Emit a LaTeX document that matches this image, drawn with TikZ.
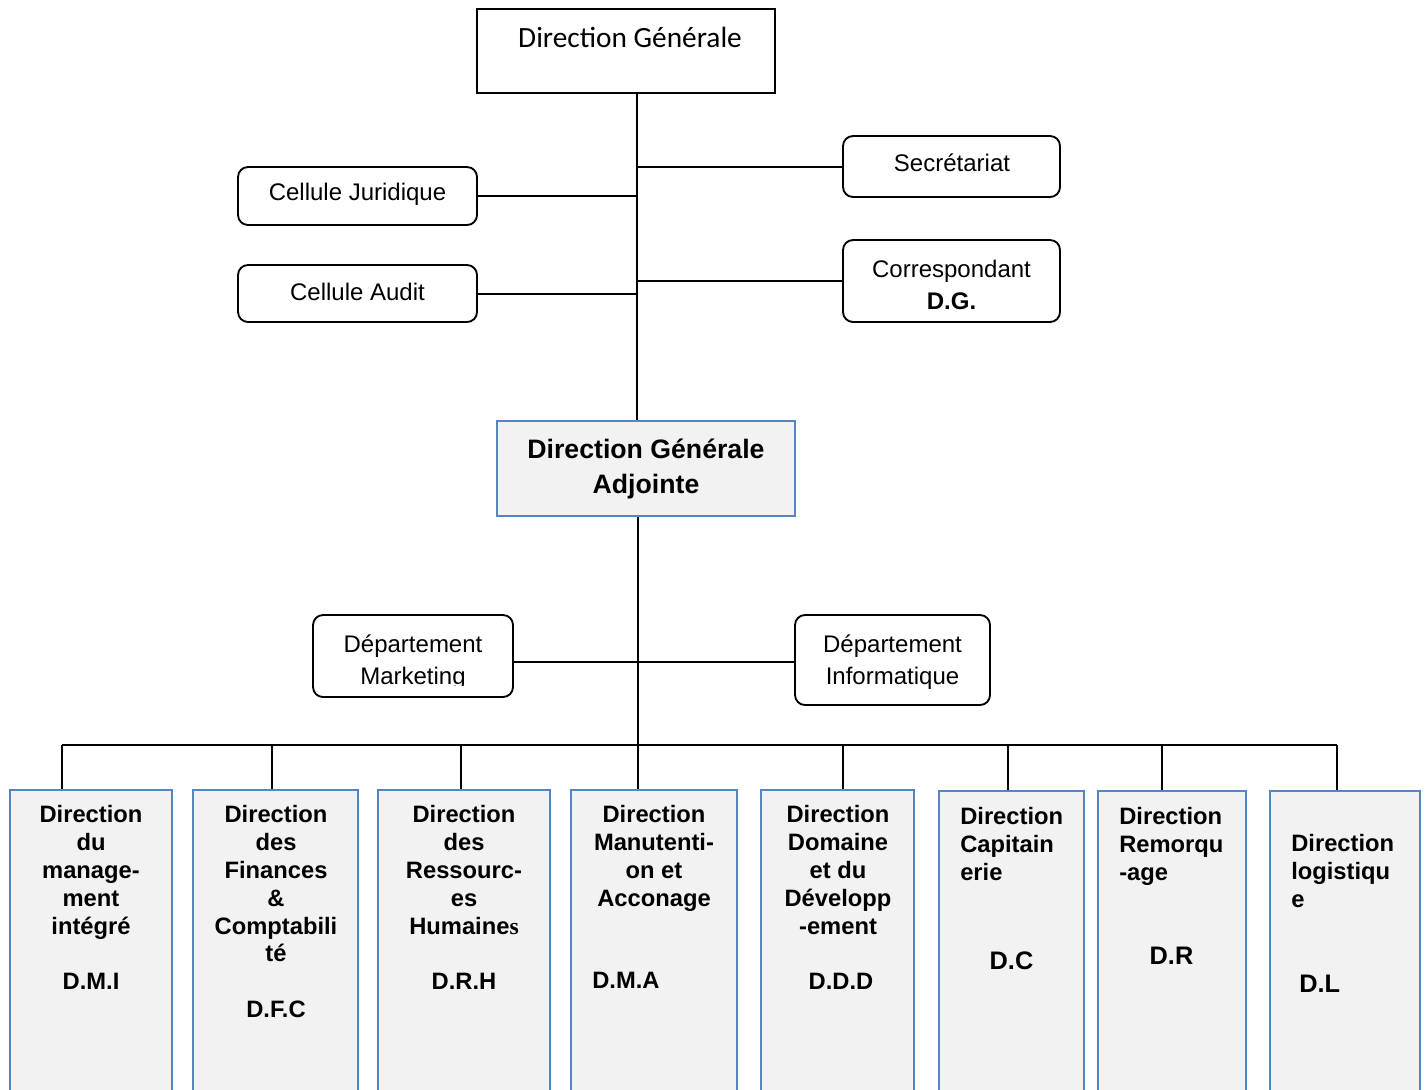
\documentclass[tikz,border=0pt]{standalone}
\usepackage{fontspec}
\setmainfont{Liberation Sans}
\newfontfamily\calibrifont{Carlito}
\newfontfamily\timesfont{Liberation Serif}
\definecolor{blueline}{HTML}{5585C2}
\definecolor{boxgray}{HTML}{F2F2F2}
\begin{document}
\begin{tikzpicture}[x=0.75pt,y=-0.75pt,
  conn/.style={line width=1.5pt},
  sz/.style 2 args={minimum width=#1*0.75pt, minimum height=#2*0.75pt, inner sep=0pt},
  plainbox/.style={draw=black, line width=1.5pt, rectangle},
  roundbox/.style={draw=black, line width=1.4pt, rounded corners=7.5pt, align=center,
    font=\fontsize{18}{23.5}\selectfont},
  boxtext/.style={align=center, inner sep=0pt, font=\fontsize{18}{23.5}\selectfont},
  bluebox/.style={draw=blueline, fill=boxgray, line width=1.5pt, rectangle},
  dirtitle/.style={inner sep=0pt, align=center, anchor=north,
    font=\fontsize{17.8}{20.85}\selectfont\bfseries},
  dirtitleL/.style={dirtitle, align=left, anchor=north west},
  abbr/.style={inner sep=0pt, anchor=base, font=\fontsize{17.8}{20.85}\selectfont\bfseries},
  abbrbig/.style={abbr, font=\fontsize{19}{22}\selectfont\bfseries}
]
\useasboundingbox (0,0) rectangle (1426,1089);
\fill[white] (0,0) rectangle (1426,1089);
\clip (0,0) rectangle (1426,1089);

% top level
\node[plainbox, sz={298}{84}] (dg) at (626,51) {};
\node[inner sep=0pt, anchor=base, font=\calibrifont\fontsize{22}{26}\selectfont] (dgt) at (630,47.5) {Direction Générale};

% staff units around the general direction
\node[roundbox, sz={239}{58}] (cj) at (357.5,196) {};
\node[boxtext] (cjt) at (357.5,194.5) {Cellule Juridique};
\node[roundbox, sz={239}{57}] (ca) at (357.5,293.5) {};
\node[boxtext] (cat) at (357.5,292) {Cellule Audit};
\node[roundbox, sz={217}{61}] (sec) at (951.5,166.5) {};
\node[boxtext] (sect) at (952,163) {Secrétariat};
\node[roundbox, sz={217}{82}] (cor) at (951.5,281) {};
\node[boxtext] (cort) at (951.5,285) {Correspondant\\\textbf{D.G.}};

% deputy direction
\node[bluebox, sz={298}{95}, align=center, font=\fontsize{20}{26.25}\selectfont\bfseries] (dga) at (646,468.5) {Direction Générale\\Adjointe};

% departments
\node[roundbox, sz={200}{82}] (dm) at (413,656) {};
\begin{scope}
  \clip (313,600) rectangle (513,685);
  \node[boxtext] (dmt) at (413,662) {Département\\Marketing};
\end{scope}
\node[roundbox, sz={195}{90}] (di) at (892.5,660) {};
\node[boxtext] (dit) at (892.5,662) {Département\\Informatique};

% directions
\node[bluebox, sz={162}{330}] (b1) at (91,955) {};
\node[bluebox, sz={165}{330}] (b2) at (275.5,955) {};
\node[bluebox, sz={172}{330}] (b3) at (464,955) {};
\node[bluebox, sz={166}{330}] (b4) at (654,955) {};
\node[bluebox, sz={153}{330}] (b5) at (837.5,955) {};
\node[bluebox, sz={145}{330}] (b6) at (1011.5,956) {};
\node[bluebox, sz={148}{330}] (b7) at (1172,956) {};
\node[bluebox, sz={150}{330}] (b8) at (1345,956) {};

\node[dirtitle] (b1t) at (91,805.5) {Direction\\du\\manage-\\ment\\intégré};
\node[dirtitle] (b2t) at (276,805.5) {Direction\\des\\Finances\\\&\\Comptabili\\té};
\node[dirtitle] (b3t) at (464,805.5) {Direction\\des\\Ressourc-\\es\\Humaine{\timesfont\bfseries s}};
\node[dirtitle] (b4t) at (654,805.5) {Direction\\Manutenti-\\on et\\Acconage};
\node[dirtitle] (b5t) at (838,805.5) {Direction\\Domaine\\et du\\Développ\\-ement};
\node[dirtitleL] (b6t) at (960,807.5) {Direction\\Capitain\\erie};
\node[dirtitleL] (b7t) at (1119,807.5) {Direction\\Remorqu\\-age};
\node[dirtitleL] (b8t) at (1291,834.5) {Direction\\logistiqu\\e};

\node[abbr] (b1a) at (91,989.5) {D.M.I};
\node[abbr] (b2a) at (276,1017.5) {D.F.C};
\node[abbr] (b3a) at (464,989.5) {D.R.H};
\node[abbr, anchor=base west] (b4a) at (592,988.5) {D.M.A};
\node[abbr] (b5a) at (841,989.5) {D.D.D};
\node[abbrbig] (b6a) at (1011.5,969.5) {D.C};
\node[abbrbig] (b7a) at (1171.5,964) {D.R};
\node[abbrbig, anchor=base west] (b8a) at (1299,992) {D.L};

% connectors
\coordinate (trunk) at (637,0);
\coordinate (hub) at (638,745);
\coordinate (deprow) at (638,662);
\draw[conn] (dg.south -| trunk) -- (dga.north -| trunk);
\draw[conn] (cj.east) -- (cj.east -| trunk);
\draw[conn] (ca.east) -- (ca.east -| trunk);
\draw[conn] (sec.west) -- (sec.west -| trunk);
\draw[conn] (cor.west) -- (cor.west -| trunk);
\draw[conn] (dga.south -| hub) -- (hub);
\draw[conn] (dm.east |- deprow) -- (di.west |- deprow);

\coordinate (t1) at (62,745);
\coordinate (t2) at (272,745);
\coordinate (t3) at (461,745);
\coordinate (t4) at (638,745);
\coordinate (t5) at (843,745);
\coordinate (t6) at (1008,745);
\coordinate (t7) at (1162,745);
\coordinate (t8) at (1337,745);
\draw[conn] (t1) -- (t8);
\foreach \i in {1,...,8} {
  \draw[conn] (t\i) -- (t\i |- b\i.north);
}
\end{tikzpicture}
\end{document}
